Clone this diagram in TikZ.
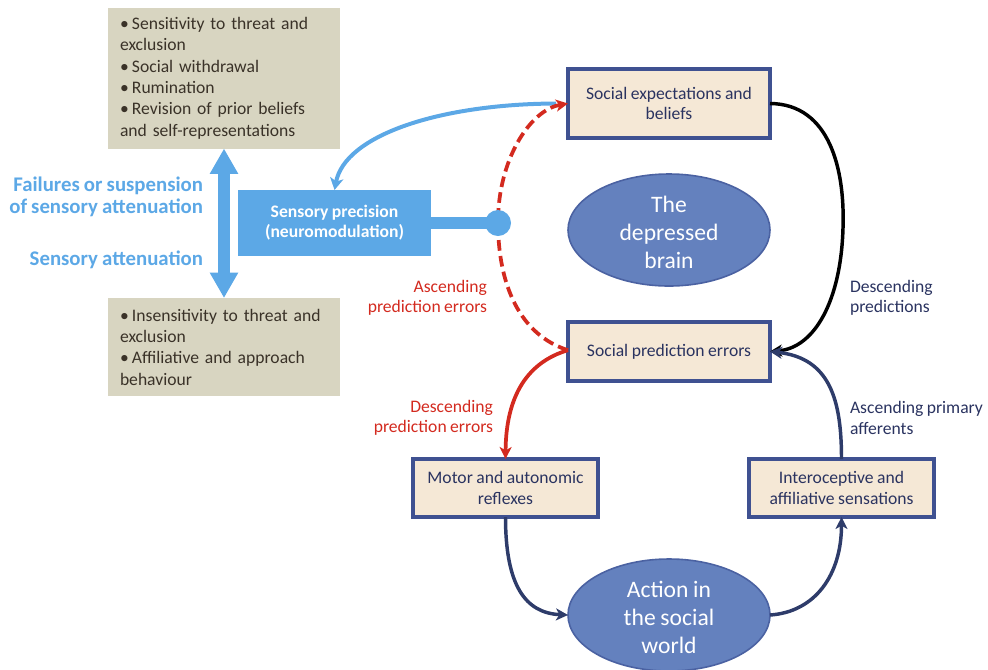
\documentclass[tikz,border=0pt]{standalone}
\usepackage{fontspec}
\setmainfont{Carlito}[WordSpace=0.88]
\usetikzlibrary{arrows.meta,shapes.geometric}
\definecolor{skyb}{HTML}{5CA8E6}
\definecolor{redc}{HTML}{D32A1F}
\definecolor{navy}{HTML}{2E3C6A}
\definecolor{navytxt}{HTML}{2A3360}
\definecolor{boxbd}{HTML}{3F5191}
\definecolor{boxfill}{HTML}{F5E8D6}
\definecolor{grayfill}{HTML}{D8D5C1}
\definecolor{graytxt}{HTML}{3A3228}
\definecolor{ellfill}{HTML}{6481BE}
\definecolor{ellbd}{HTML}{4B62A2}
\newcommand\bul{•\hspace{2.4pt}}
\begin{document}
\begin{tikzpicture}[x=0.75pt,y=-0.75pt,
  every node/.style={inner sep=0pt, outer sep=0pt},
  bodyfont/.style={font=\fontsize{13.2}{15.4}\selectfont},
  beigebox/.style={draw=boxbd, line width=2.4pt, fill=boxfill, text=navytxt, align=center, bodyfont},
  graybox/.style={fill=grayfill, text=graytxt, align=left, font=\fontsize{13.2}{16}\selectfont, text width=156pt},
  ellnode/.style={ellipse, draw=ellbd, line width=1.2pt, fill=ellfill, minimum width=151.5pt, minimum height=84pt},
  elltext/.style={text=white, align=center, font=\fontsize{17.7}{21}\selectfont},
  bluelab/.style={text=skyb, align=right, font=\bfseries\fontsize{15.6}{16.5}\selectfont},
  redlab/.style={text=redc, align=right, bodyfont},
  navylab/.style={text=navytxt, align=left, bodyfont},
  navyarrow/.style={draw=navy, line width=2.6pt, -{Stealth[length=9pt,width=9pt,inset=2.5pt]}},
  redarrow/.style={draw=redc, line width=2.8pt, -{Stealth[length=9pt,width=9pt,inset=2.5pt]}},
  blackarrow/.style={draw=black, line width=2.6pt, -{Stealth[length=9pt,width=9pt,inset=2.5pt]}},
  bluearrow/.style={draw=skyb, line width=3pt, -{Stealth[length=9pt,width=10pt,inset=2.5pt]}}
]
\useasboundingbox (0,0) rectangle (988,669);

% gray boxes
\node[graybox, minimum width=174pt, minimum height=105.75pt] (gtop) at (224,78)
  {\bul Sensitivity to threat and\\exclusion\\\bul Social withdrawal\\\bul Rumination\\\bul Revision of prior beliefs\\and self-representations};
\node[graybox, minimum width=174pt, minimum height=73.5pt] (gbot) at (224,347)
  {\bul Insensitivity to threat and\\exclusion\\\bul Affiliative and approach\\behaviour};

% double arrow
\draw[skyb, line width=9pt, {Triangle[width=20pt,length=19pt]}-{Triangle[width=20pt,length=19pt]}] (gtop.south) -- (gbot.north);

% blue labels
\node[bluelab, anchor=east] (fail) at (203,197) {Failures or suspension\\of sensory attenuation};
\node[bluelab, anchor=east] (att) at (203,260) {Sensory attenuation};

% beige boxes
\node[beigebox, minimum width=151.5pt, minimum height=51.75pt] (sexp) at (669,103.5) {Social expectations and\\beliefs};
\node[beigebox, minimum width=151.5pt, minimum height=44.25pt] (spe) at (669,351.5) {Social prediction errors};
\node[beigebox, minimum width=138.75pt, minimum height=43.5pt] (motor) at (505.5,488) {Motor and autonomic\\reflexes};
\node[beigebox, minimum width=138.75pt, minimum height=43.5pt] (intero) at (841.5,488) {Interoceptive and\\affiliative sensations};

% ellipses
\node[ellnode] (brain) at (669,230) {};
\node[elltext] (braintext) at (669,232) {The\\depressed\\brain};
\node[ellnode] (action) at (669,615) {};
\node[elltext] (actiontext) at (669,617) {Action in\\the social\\world};

% sensory precision
\node[fill=skyb, minimum width=144.75pt, minimum height=49.5pt, text=white, align=center,
      font=\bfseries\fontsize{13.2}{15}\selectfont] (sp) at (334.5,223) {Sensory precision\\(neuromodulation)};

% blue curved arrow
\coordinate (bstart) at ([xshift=-9pt]sexp.west);
\draw[bluearrow] (bstart) .. controls (440,104) and (345,135) .. (sp.north);

% red dashed ascending prediction errors
\draw[redc, line width=2.8pt, dash pattern=on 8pt off 4pt, -{Stealth[length=9pt,width=9pt,inset=2.5pt]}]
  ([yshift=1pt]spe.west) .. controls (520,335) and (498,285) .. (498,222)
  .. controls (498,160) and (530,110) .. (sexp.west);

% blue connector with dot
\node[circle, fill=skyb, minimum size=19.5pt] (dot) at (498,223) {};
\draw[skyb, line width=9pt] (sp.east) -- (dot.center);

% black descending predictions
\draw[blackarrow] (sexp.east) .. controls (830,104) and (845,170) .. (843,228)
  .. controls (841,300) and (815,348) .. (spe.east);

% red descending prediction errors
\draw[redarrow] ([yshift=1pt]spe.west) .. controls (528,362) and (506,395) .. (motor.north);

% navy ascending primary afferents
\draw[navyarrow] (intero.north) .. controls (841.5,400) and (830,358) .. (spe.east);

% navy lower arrows
\draw[navyarrow] (motor.south) .. controls (505.5,585) and (525,613) .. (action.west);
\draw[navyarrow] (action.east) .. controls (815,612) and (841.5,575) .. (intero.south);

% labels
\node[redlab, anchor=east] (asclab) at (487,298) {Ascending\\prediction errors};
\node[redlab, anchor=east] (desclab) at (493,418) {Descending\\prediction errors};
\node[navylab, anchor=west] (dpred) at (850,298) {Descending\\predictions};
\node[navylab, anchor=west] (aprim) at (850,418) {Ascending primary\\afferents};
\end{tikzpicture}
\end{document}
